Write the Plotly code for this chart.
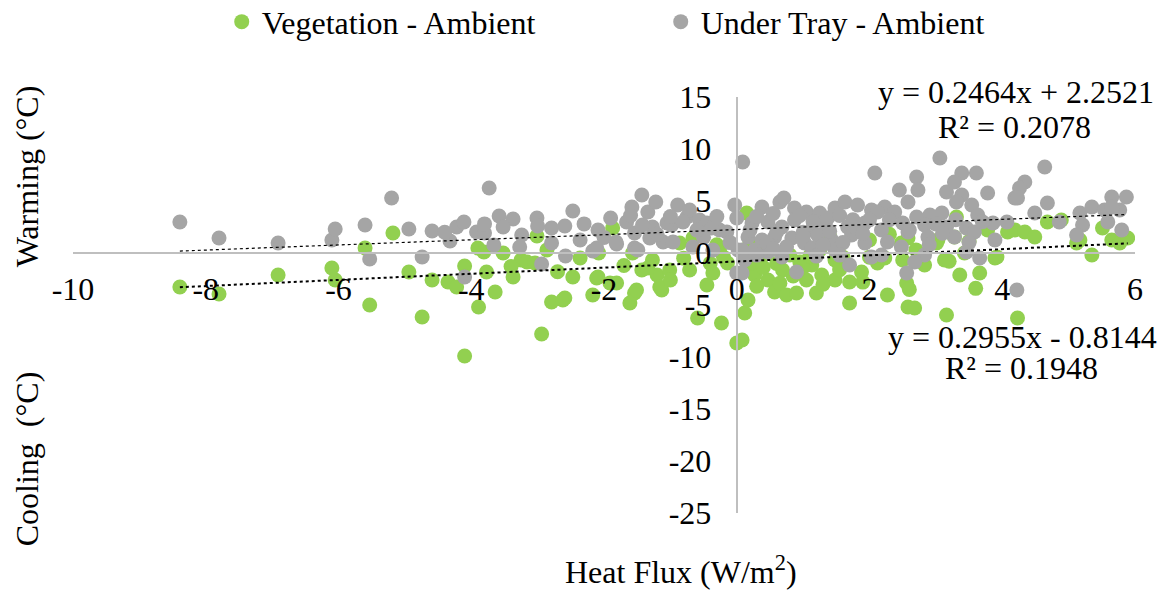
import plotly.graph_objects as go

# Vegetation - Ambient: heat flux (W/m2) vs temperature difference (°C)
veg_x = [-8.39, -7.80, -6.91, -6.10, -6.05, -5.60, -5.53, -5.18, -4.94, -4.74,
         -4.59, -4.35, -4.22, -4.10, -4.10, -3.89, -3.90, -3.81, -3.77, -3.64,
         -3.52, -3.37, -3.25, -3.16, -3.04, -3.01, -2.94, -2.86, -2.79, -2.62,
         -2.47, -2.36, -2.17, -2.09, -2.08, -1.91, -1.87, -1.61, -1.54, -1.43,
         -1.57, -1.27, -1.20, -1.13, -1.01, -0.86, -0.71, -0.59, -0.45, -0.36,
         -0.23, 0.12, 0.00, 0.15, -2.59, -2.11, -1.81, -1.51, -1.34, -1.16,
         -0.14, -0.26, -0.66, 0.08, 0.17, 0.27, 0.47, 0.57, 0.75, 0.90,
         0.69, 1.05, 1.20, 1.28, 1.48, 1.70, 1.70, 1.88, 1.13, 1.48,
         1.78, 0.35, 0.80, 1.25, 0.35, 0.95, 1.55, 2.00, 2.12, 2.27,
         2.58, 2.68, 3.16, 2.56, 2.83, 3.13, 3.31, 3.43, 3.36, 3.66,
         3.89, 3.78, 2.48, 2.58, 3.03, 3.28, 4.08, 2.23, 3.01, 2.50,
         4.19, 4.34, 4.49, 4.68, 4.89, 5.17, 5.35, 5.51, 5.65, 5.77,
         5.89, 4.23, 5.12, 3.92,
         0.20, 0.40, 0.60, 0.85, 1.00, 1.30, 1.55, 1.90, 0.30, 0.65,
         1.10, 1.60, 2.00, 0.20, 0.50, 1.40, -0.20, -0.40, -0.80, -1.00,
         -1.70, -0.30, 2.30, 2.70, 3.20, 3.50, 2.60, 3.60, -2.70, -3.40]
veg_y = [-3.27, -3.94, -2.12, -1.44, -2.60, 0.48, -5.00, 1.92, -1.83, -6.15,
         -2.60, -2.79, -3.27, -1.25, -9.90, -5.19, 0.48, 0.10, -1.83, -3.75,
         0.00, -2.31, -0.67, -0.87, -0.96, 1.63, -7.79, 0.29, -4.71, -4.52,
         -2.31, -0.48, -4.04, -2.31, 0.00, -2.88, 2.40, -4.81, -3.85, -1.63,
         0.00, -0.67, -2.12, -3.56, -1.63, 0.96, -1.63, -6.25, -3.08, -1.92,
         -6.73, -5.77, -8.65, 3.85, -4.33, -2.40, -2.88, -3.56, -1.44, -3.27,
         -0.96, 0.29, 1.44, -8.37, -4.52, -2.12, -2.60, -3.75, -4.04, -3.85,
         -1.63, -2.60, -3.85, -2.12, -2.60, -2.79, -4.81, -1.83, -1.15, -0.67,
         2.21, 0.77, -0.19, 0.29, -0.87, -0.87, 0.77, 1.25, -0.96, -4.04,
         -5.19, -5.29, -5.96, -2.88, -1.15, -0.67, 3.46, 0.00, -2.12, -1.92,
         -0.48, 2.21, 0.96, 1.44, 1.25, 1.54, 2.02, -0.48, 0.96, -0.67,
         2.21, 2.02, 1.54, 2.98, 3.17, 1.25, -0.19, 2.40, 1.25, 0.96,
         1.44, -6.25, 0.96, -0.38,
         -1.00, -1.40, -1.00, -2.20, -1.40, -3.00, -1.60, -2.80, -3.20, -2.90,
         -0.30, -0.40, -0.40, 1.00, 0.30, 1.60, -0.40, -1.00, -0.50, -2.60,
         -1.20, 0.80, 1.80, 0.30, -0.80, 1.10, -3.50, -3.40, -1.80, -1.30]

# Under Tray - Ambient
tray_x = [-8.39, -7.80, -6.91, -6.10, -6.05, -5.60, -5.53, -5.20, -4.94, -4.74,
          -4.59, -4.32, -4.22, -4.11, -4.10, -3.73, -3.92, -3.80, -3.66, -3.58,
          -3.37, -3.52, -3.24, -3.27, -3.01, -2.94, -2.79, -2.79, -2.59, -2.47,
          -2.58, -2.36, -2.17, -2.09, -1.90, -1.81, -1.66, -1.58, -1.43, -1.54,
          -1.54, -1.34, -1.22, -1.27, -1.11, -0.89, -0.98, -0.75, -0.71, -0.66,
          -0.56, -0.45, -0.36, -0.26, -0.03, 0.00, 0.09, 0.02, 0.00, -2.11,
          -1.82, -1.42, -1.49, -1.31, -1.05, -0.96, -0.81, -0.38, -0.15, 0.38,
          0.65, 0.71, 0.87, 1.05, 1.25, 1.48, 1.63, 1.82, 2.03, 2.08,
          0.23, 0.47, 0.68, 0.87, 1.13, 1.33, 1.67, 1.93, 0.17, 0.38,
          0.57, 0.83, 1.02, 1.22, 1.43, 1.73, 1.93, 0.08, 0.47, 0.68,
          1.13, 1.48, 1.70, 0.90, 0.08, 2.03, 0.12, 0.27, 1.37, 3.06,
          2.71, 3.39, 3.61, 2.45, 2.73, 3.16, 3.28, 3.39, 3.78, 4.19,
          2.58, 2.23, 3.54, 3.31, 2.12, 2.38, 2.71, 2.91, 3.09, 3.63,
          2.50, 2.83, 3.16, 3.46, 3.86, 4.07, 2.18, 2.58, 2.88, 3.28,
          3.58, 3.89, 2.27, 2.48, 2.83, 3.46, 3.66, 2.68, 2.56, 2.18,
          4.22, 4.64, 4.34, 4.26, 4.23, 4.68, 4.49, 4.86, 5.17, 5.35,
          5.54, 5.65, 5.87, 5.77, 5.21, 5.12, 5.59, 5.80, 5.65,
          0.30, 0.55, 0.95, 1.15, 1.55, 1.75, 0.20, 0.60, 1.00, 1.40,
          1.80, 2.00, 0.45, 0.75, 1.00, 1.30, 1.60, 1.90, 0.30, 0.55,
          1.20, 1.55, -0.50, -0.30, -0.10, -1.00, -0.60, -1.20, -2.00, -1.60,
          2.30, 2.60, 3.00, 3.30, 3.70, 2.90, 3.10, 3.50, -3.00, -2.30,
          -4.40, -3.80]
tray_y = [2.98, 1.44, 0.96, 1.25, 2.31, 2.69, -0.58, 5.29, 2.31, -0.38,
          2.12, 1.15, 2.50, 2.98, -2.31, 6.25, 2.02, 1.92, 0.77, 3.56,
          3.27, 2.50, 1.73, 0.58, 3.37, -1.06, 2.40, 0.96, 2.60, 4.04,
          -0.29, 1.25, 0.19, 2.21, 3.37, 0.87, 2.98, 4.42, 5.58, 1.92,
          0.48, 3.94, 4.90, 2.50, 1.06, 4.62, 2.69, 3.46, 4.13, 0.58,
          3.17, 2.88, 0.29, 2.21, 4.62, 3.37, 8.75, 0.29, -1.92, 0.48,
          1.06, 2.69, 0.29, 1.44, 2.88, 1.06, 2.98, 2.40, 2.02, 4.42,
          4.90, 5.29, 4.33, 3.94, 3.85, 4.33, 4.90, 4.62, 4.13, 7.69,
          2.88, 2.98, 2.50, 3.17, 2.21, 2.88, 2.50, 2.88, 1.54, 1.25,
          1.54, 1.44, 0.96, 1.73, 1.25, 1.73, 0.96, 0.29, 0.10, -0.38,
          0.48, 0.29, -1.15, -1.83, -1.92, -0.38, -0.67, 0.29, 3.37, 9.13,
          7.31, 7.69, 7.69, 6.06, 6.06, 5.87, 6.83, 5.58, 5.77, 5.29,
          4.90, 4.42, 4.62, 4.90, 3.94, 3.94, 3.46, 3.65, 3.85, 3.65,
          2.88, 2.69, 2.50, 2.40, 2.88, 2.98, 2.21, 2.02, 1.54, 1.54,
          2.02, 1.25, 1.06, 0.58, -0.19, 0.10, -0.48, -0.87, -1.92, -0.19,
          -3.56, 8.27, 6.83, 6.25, 5.29, 4.81, 3.85, 2.98, 3.85, 4.42,
          4.13, 5.38, 5.38, 4.13, 2.69, 1.73, 2.98, 2.21, 4.42,
          3.50, 3.80, 3.60, 3.00, 3.60, 3.20, 2.20, 2.00, 2.00, 2.10,
          2.40, 3.20, 1.00, 0.60, 1.60, 0.80, 1.00, 1.90, -0.20, 0.40,
          -0.30, -0.20, 1.50, 3.50, 1.00, 3.50, 2.20, 1.80, 1.50, 3.60,
          3.20, 2.20, 2.80, 3.20, 3.00, 0.80, 1.90, 1.00, 2.60, 2.80,
          2.00, 2.80]

# Linear trend coefficients as printed on the chart
veg_slope, veg_intercept, veg_r2 = 0.2955, -0.8144, 0.1948
tray_slope, tray_intercept, tray_r2 = 0.2464, 2.2521, 0.2078

# Tick values and their labels (plain hyphen minus)
x_ticks = [-10, -8, -6, -4, -2, 0, 2, 4, 6]
x_tick_labels = ["-10", "-8", "-6", "-4", "-2", "0", "2", "4", "6"]
y_ticks = [-25, -20, -15, -10, -5, 0, 5, 10, 15]
y_tick_labels = ["-25", "-20", "-15", "-10", "-5", "0", "5", "10", "15"]

GREEN = "#92d050"
GREY = "#a5a5a5"
FONT = "Times New Roman, Liberation Serif, DejaVu Serif, serif"


def trend(xs, slope, intercept):
    lo, hi = min(xs), max(xs)
    return [lo, hi], [slope * lo + intercept, slope * hi + intercept]


fig = go.Figure()
fig.add_trace(go.Scatter(x=veg_x, y=veg_y, mode="markers", name="Vegetation - Ambient",
                         marker=dict(color=GREEN, size=15, line=dict(width=0))))
fig.add_trace(go.Scatter(x=tray_x, y=tray_y, mode="markers", name="Under Tray - Ambient",
                         marker=dict(color=GREY, size=15, line=dict(width=0))))

tx, ty = trend(veg_x, veg_slope, veg_intercept)
fig.add_trace(go.Scatter(x=tx, y=ty, mode="lines", showlegend=False, hoverinfo="skip",
                         line=dict(color="black", width=2, dash="dot")))
tx, ty = trend(tray_x, tray_slope, tray_intercept)
fig.add_trace(go.Scatter(x=tx, y=ty, mode="lines", showlegend=False, hoverinfo="skip",
                         line=dict(color="black", width=1.2, dash="dot")))

axis_line = dict(showline=True, linecolor="#bfbfbf", linewidth=2, showgrid=False,
                 zeroline=False, ticks="", tickfont=dict(family=FONT, size=32, color="black"))

fig.update_layout(
    width=1167, height=590,
    margin=dict(l=73, r=32, t=97, b=77),
    plot_bgcolor="white", paper_bgcolor="white",
    font=dict(family=FONT, size=32, color="black"),
    xaxis=dict(range=[-10, 6], tickvals=x_ticks, ticktext=x_tick_labels,
               anchor="free", position=0.625, ticklabelstandoff=8, **axis_line),
    yaxis=dict(range=[-25, 15], tickvals=y_ticks, ticktext=y_tick_labels,
               anchor="free", position=0.625, ticklabelstandoff=18, **axis_line),
    legend=dict(orientation="h", xref="container", x=0.190, xanchor="left",
                yref="container", y=0.963, yanchor="middle",
                font=dict(family=FONT, size=32),
                entrywidth=394, entrywidthmode="pixels"),
    showlegend=True,
)

eq_font = dict(family=FONT, size=32, color="black")
annotations = [
    dict(x=0.888, y=1.012, text=f"y = {tray_slope:.4f}x + {tray_intercept:.4f}"),
    dict(x=0.887, y=0.928, text=f"R² = {tray_r2:.4f}"),
    dict(x=0.8945, y=0.423, text=f"y = {veg_slope:.4f}x - {abs(veg_intercept):.4f}"),
    dict(x=0.8927, y=0.3486, text=f"R² = {veg_r2:.4f}"),
]
for a in annotations:
    fig.add_annotation(xref="paper", yref="paper", showarrow=False, font=eq_font,
                       xanchor="center", yanchor="middle", **a)

# Axis titles
fig.add_annotation(xref="paper", yref="paper", x=0.5725, y=-0.137, showarrow=False,
                   text="Heat Flux (W/m<sup>2</sup>)", font=eq_font,
                   xanchor="center", yanchor="middle")
fig.add_annotation(xref="paper", yref="paper", x=-0.043, y=0.81, showarrow=False,
                   text="Warming (°C)", textangle=-90, font=eq_font,
                   xanchor="center", yanchor="middle")
fig.add_annotation(xref="paper", yref="paper", x=-0.043, y=0.13, showarrow=False,
                   text="Cooling  (°C)", textangle=-90, font=eq_font,
                   xanchor="center", yanchor="middle")

fig.write_html("out.html")
